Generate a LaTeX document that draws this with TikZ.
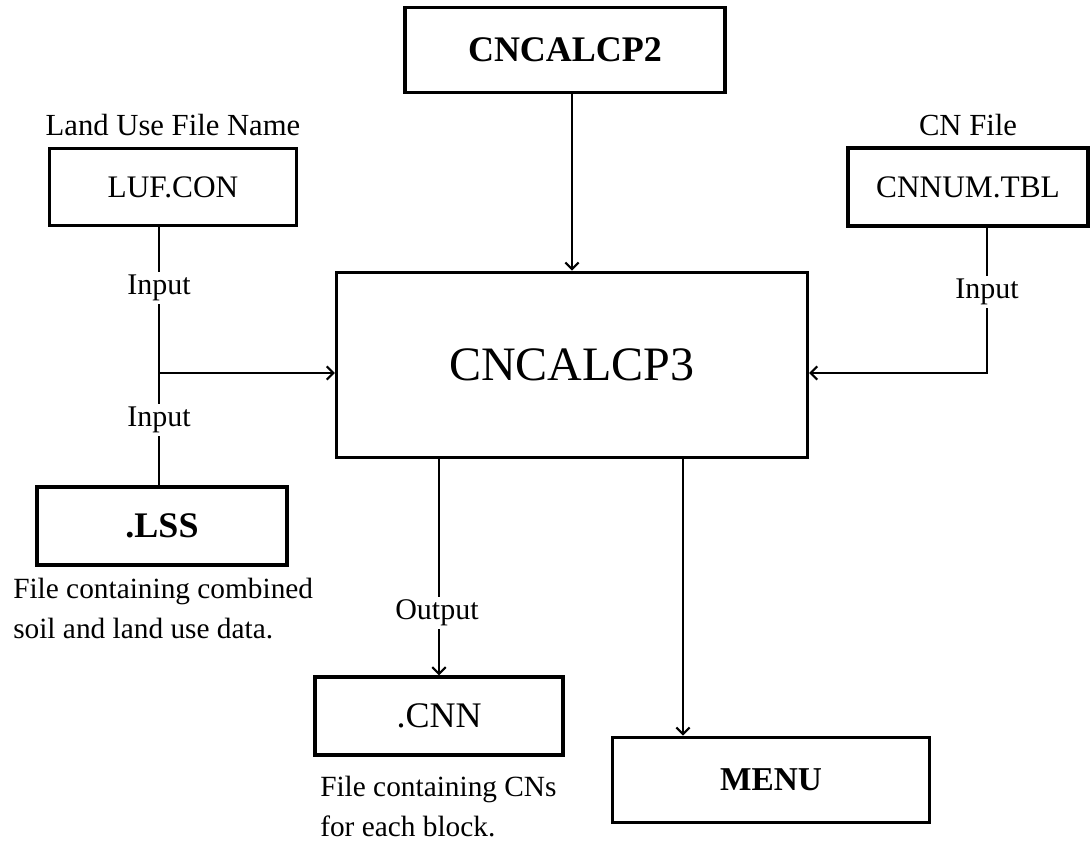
\documentclass[tikz,border=0pt]{standalone}
\usepackage{fontspec}
\setmainfont{Liberation Serif}
\usetikzlibrary{arrows.meta,positioning}
\tikzset{
  filebox/.style={
    draw,
    rectangle,
    line width=2.6pt,
    inner sep=0pt,
    font=\fontsize{23.5}{28}\selectfont,
  },
  progbox/.style={
    filebox,
    font=\bfseries\fontsize{27}{32}\selectfont,
  },
  flow/.style={line width=2pt, -{Straight Barb[length=5pt,width=10pt,line width=1.6pt]}},
  link/.style={line width=2pt},
  tag/.style={fill=white, inner sep=2pt, font=\fontsize{22.5}{26}\selectfont},
  title/.style={inner sep=0pt, font=\fontsize{23}{26}\selectfont},
  note/.style={align=left, anchor=north west, inner sep=0pt, font=\fontsize{22}{30}\selectfont},
}
\begin{document}
\begin{tikzpicture}[x=0.75pt, y=-0.75pt]
  \useasboundingbox (0,0) rectangle (1092,842);
  % programs
  \node[progbox, minimum width=240pt, minimum height=64pt] (calc2) at (565,50) {CNCALCP2};
  \node[filebox, minimum width=353pt, minimum height=139pt, font=\fontsize{36}{40}\selectfont] (calc3) at (572,365) {CNCALCP3};
  \node[progbox, minimum width=238pt, minimum height=64pt, font=\bfseries\fontsize{25}{30}\selectfont] (menu) at (771,780) {MENU};
  % files
  \node[filebox, minimum width=185pt, minimum height=58pt] (luf) at (173,187) {LUF.CON};
  \node[title, above=8pt of luf] (luftitle) {Land Use File Name};
  \node[filebox, minimum width=180pt, minimum height=58.5pt] (cnnum) at (968,187) {CNNUM.TBL};
  \node[title, above=8pt of cnnum] (cntitle) {CN File};
  \node[progbox, minimum width=187.5pt, minimum height=58.5pt] (lss) at (162,526) {.LSS};
  \node[filebox, minimum width=186pt, minimum height=58.5pt, font=\fontsize{27}{32}\selectfont] (cnn) at (439,716) {.CNN};
  \node[note] (lssnote) at (13,578) {File containing combined\\soil and land use data.};
  \node[note] (cnnnote) at (320,776) {File containing CNs\\for each block.};
  % connectors
  \coordinate (ljoin) at (159,373);
  \coordinate (rjoin) at (987,373);
  \coordinate (mx) at (683,0);
  \draw[flow] (calc3.north |- calc2.south) -- (calc3.north);
  \draw[link] (luf.south -| ljoin) -- (lss.north -| ljoin);
  \draw[flow] (ljoin) -- (ljoin -| calc3.west);
  \draw[flow] (cnnum.south -| rjoin) -- (rjoin) -- (rjoin -| calc3.east);
  \draw[flow] (cnn.north |- calc3.south) -- (cnn.north);
  \draw[flow] (calc3.south -| mx) -- (menu.north -| mx);
  % line labels
  \node[tag] (intop) at (159,288) {Input};
  \node[tag] (inbot) at (159,420) {Input};
  \node[tag] (inright) at (987,292) {Input};
  \node[tag] (outcnn) at (437,613) {Output};
\end{tikzpicture}
\end{document}
